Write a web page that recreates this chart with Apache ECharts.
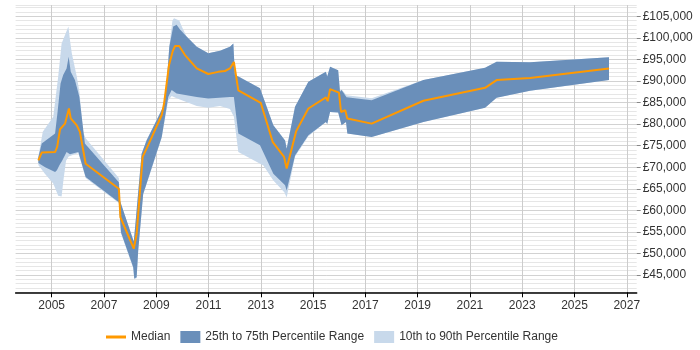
<!DOCTYPE html>
<html>
<head>
<meta charset="utf-8">
<script src="https://cdn.jsdelivr.net/npm/echarts@6/dist/echarts.min.js"></script>
<style>
  html, body { margin: 0; padding: 0; background: #fff; }
  #chart { width: 700px; height: 350px; }
</style>
</head>
<body>
<div id="chart"></div>
<script>
// ---- Data (year as decimal, salary in GBP) ----
const median = [
  [2004.49, 71600], [2004.62, 73400], [2005.13, 73500], [2005.21, 74700],
  [2005.32, 78800], [2005.51, 80100], [2005.57, 80500], [2005.66, 83600],
  [2005.73, 81300], [2005.96, 79700], [2006.08, 78200], [2006.30, 70800],
  [2007.57, 65000], [2007.63, 58400], [2008.14, 51100], [2008.25, 54500],
  [2008.48, 72400], [2008.63, 74300], [2008.89, 77800], [2009.21, 82100],
  [2009.30, 84800], [2009.49, 93700], [2009.63, 96900], [2009.72, 98100],
  [2009.88, 98100], [2010.10, 96000], [2010.55, 92900], [2010.99, 91600],
  [2011.37, 92100], [2011.63, 92300], [2011.82, 92900], [2011.97, 94400],
  [2012.14, 87800], [2013.00, 84900], [2013.46, 75800], [2013.89, 72400],
  [2013.99, 69700], [2014.35, 78300], [2014.82, 83600], [2015.49, 86200],
  [2015.56, 85300], [2015.65, 88100], [2015.99, 87300], [2016.07, 82800],
  [2016.23, 83200], [2016.31, 81300], [2017.24, 80100], [2019.22, 85400],
  [2021.58, 88400], [2022.02, 90200], [2023.30, 90700], [2026.32, 92900]
];
const p75 = [
  [2004.49, 72300], [2004.62, 75500], [2005.13, 77800], [2005.22, 82500],
  [2005.34, 89400], [2005.44, 91400], [2005.57, 92900], [2005.65, 95600],
  [2005.73, 92100], [2005.89, 90200], [2006.06, 86300], [2006.27, 75500],
  [2007.57, 66500], [2007.61, 62300], [2008.14, 52800], [2008.22, 58000],
  [2008.44, 73100], [2008.63, 76200], [2009.27, 84000], [2009.40, 89400],
  [2009.50, 97900], [2009.65, 102600], [2009.78, 103000], [2009.90, 102000],
  [2010.16, 100300], [2010.55, 97900], [2010.99, 96400], [2011.44, 97000],
  [2011.82, 97900], [2011.95, 98700], [2012.01, 91400], [2012.14, 91000],
  [2012.97, 88300], [2013.48, 79700], [2013.93, 76200], [2013.99, 74300],
  [2014.31, 84000], [2014.82, 89800], [2015.49, 92100], [2015.54, 91000],
  [2015.65, 93300], [2015.96, 92500], [2016.03, 87500], [2016.09, 87900],
  [2016.28, 86200], [2017.24, 85500], [2019.22, 90200], [2021.58, 93050],
  [2022.02, 94440], [2023.30, 94300], [2026.32, 95500]
];
const p25 = [
  [2004.49, 71000], [2004.75, 70000], [2005.13, 68900], [2005.20, 69300],
  [2005.30, 70500], [2005.40, 71500], [2005.57, 73500], [2005.70, 73000],
  [2006.02, 73500], [2006.30, 67700], [2007.57, 61900], [2007.65, 54900],
  [2008.12, 46800], [2008.16, 44200], [2008.25, 44500], [2008.31, 50700],
  [2008.50, 63800], [2009.21, 77000], [2009.46, 86300], [2009.59, 87900],
  [2009.78, 87100], [2010.55, 86300], [2010.99, 85900], [2011.82, 86300],
  [2011.97, 86300], [2012.14, 77800], [2012.97, 75100], [2013.48, 68500],
  [2013.93, 65800], [2013.99, 64600], [2014.31, 72700], [2014.82, 77400],
  [2015.49, 80500], [2015.54, 80000], [2015.65, 82800], [2015.96, 82700],
  [2016.09, 79700], [2016.26, 80500], [2016.31, 77800], [2017.24, 77000],
  [2019.22, 80500], [2021.58, 83800], [2022.02, 86100], [2023.30, 87700],
  [2026.32, 90200]
];
const p90 = [
  [2004.49, 72500], [2004.66, 78200], [2005.06, 81700], [2005.25, 91000],
  [2005.38, 98700], [2005.64, 102600], [2005.70, 99500], [2005.77, 96400],
  [2005.96, 91000], [2006.06, 87500], [2006.21, 78000], [2006.30, 76700],
  [2007.57, 67500], [2007.61, 62300], [2008.14, 52800], [2008.22, 58000],
  [2008.44, 73100], [2008.63, 76300], [2009.27, 84100], [2009.40, 90000],
  [2009.50, 98000], [2009.62, 104000], [2009.68, 104500], [2009.88, 104000],
  [2010.00, 102300], [2010.16, 100300], [2010.55, 97900], [2010.99, 96400],
  [2011.44, 97000], [2011.82, 97900], [2011.95, 98700], [2012.01, 91400],
  [2012.14, 91100], [2012.97, 88300], [2013.48, 79700], [2013.93, 76200],
  [2013.99, 74300], [2014.31, 84000], [2014.82, 89800], [2015.49, 92100],
  [2015.54, 91000], [2015.65, 93300], [2015.96, 92500], [2016.03, 87800],
  [2016.09, 88000], [2016.28, 86700], [2017.24, 86000], [2019.22, 90200],
  [2021.58, 93050], [2022.02, 94440], [2023.30, 94300], [2026.32, 95500]
];
const p10 = [
  [2004.49, 70500], [2004.74, 68500], [2005.06, 66200], [2005.25, 63400],
  [2005.38, 63200], [2005.45, 67000], [2005.55, 71500], [2005.65, 72500],
  [2006.02, 73300], [2006.30, 67500], [2007.57, 61700], [2007.65, 54700],
  [2008.12, 46600], [2008.16, 44000], [2008.25, 44300], [2008.31, 50500],
  [2008.50, 63600], [2009.21, 76800], [2009.46, 85500], [2009.59, 86500],
  [2009.78, 86000], [2010.55, 84200], [2010.99, 83800], [2011.44, 84200],
  [2011.82, 83500], [2011.97, 81700], [2012.14, 73500], [2013.10, 70400],
  [2013.48, 66900], [2013.90, 64200], [2013.99, 63000], [2014.31, 72500],
  [2014.82, 77200], [2015.49, 80500], [2015.54, 80000], [2015.65, 82800],
  [2015.96, 82700], [2016.09, 79700], [2016.26, 80500], [2016.31, 77800],
  [2017.24, 77000], [2019.22, 80500], [2021.58, 83800], [2022.02, 86100],
  [2023.30, 87700], [2026.32, 90200]
];
const xTickYears = [2005, 2007, 2009, 2011, 2013, 2015, 2017, 2019, 2021, 2023, 2025, 2027];
const yTickValues = [45000, 50000, 55000, 60000, 65000, 70000, 75000, 80000, 85000, 90000, 95000, 100000, 105000];
const seriesNames = ['Median', '25th to 75th Percentile Range', '10th to 90th Percentile Range'];

// ---- Axis extents and grid lines ----
const xMin = 2003.62, xMax = 2027.38;
const yMin = 41000, yMax = 107600;
const yGridValues = [];
for (let v = 41000; v <= 107000; v += 1000) yGridValues.push(v);
yGridValues.push(yMax);

const FONT = '"Liberation Sans", Arial, sans-serif';
const DARK = '#6a8fba';
const LIGHT = '#c8d9eb';
const ORANGE = '#ff9900';

function band(name, upper, lower, color, z) {
  return {
    type: 'custom',
    name: name,
    xAxisIndex: 0,
    yAxisIndex: 0,
    z: z,
    silent: true,
    clip: true,
    itemStyle: { color: color },
    data: [upper[0]],
    renderItem: function (params, api) {
      const pts = upper.map(p => api.coord(p))
        .concat(lower.slice().reverse().map(p => api.coord(p)));
      return { type: 'polygon', shape: { points: pts }, style: { fill: color } };
    }
  };
}

const chart = echarts.init(document.getElementById('chart'), null, { renderer: 'canvas' });
chart.setOption({
  animation: false,
  textStyle: { fontFamily: FONT },
  grid: { left: 15.6, right: 63.3, top: 5, bottom: 57.7, containLabel: false },
  legend: {
    top: 326,
    left: 101,
    itemWidth: 20,
    itemHeight: 12,
    itemGap: 10,
    symbolKeepAspect: true,
    textStyle: { fontSize: 12, color: '#333', fontFamily: FONT },
    data: [
      { name: seriesNames[0], icon: 'path://M0,0H20V3H0Z', itemStyle: { color: ORANGE } },
      { name: seriesNames[1], icon: 'rect' },
      { name: seriesNames[2], icon: 'rect' }
    ]
  },
  xAxis: {
    type: 'value',
    min: xMin,
    max: xMax,
    axisLine: { show: true, lineStyle: { color: '#000', width: 1.5 } },
    axisTick: { show: true, customValues: xTickYears, length: 5, lineStyle: { color: '#000' } },
    axisLabel: { customValues: xTickYears, color: '#333', fontSize: 12, margin: 7, fontFamily: FONT,
                 formatter: v => String(v) },
    splitLine: { show: true, lineStyle: { color: '#cccccc', width: 1 } }
  },
  yAxis: [
    {
      type: 'value',
      position: 'right',
      min: yMin, max: yMax,
      axisLine: { show: false },
      axisTick: { show: false, customValues: yGridValues },
      axisLabel: { show: false },
      splitLine: { show: true, lineStyle: { color: ['#e6e6e6', '#e6e6e6', '#e6e6e6', '#e6e6e6', '#d2d2d2'], width: 1 } }
    },
    {
      type: 'value',
      position: 'right',
      min: yMin, max: yMax,
      axisLine: { show: false },
      axisTick: { show: true, customValues: yTickValues, length: 4, lineStyle: { color: '#888' } },
      axisLabel: { customValues: yTickValues, color: '#333', fontSize: 12, margin: 6, fontFamily: FONT,
                   formatter: v => '£' + v.toLocaleString('en-GB') },
      splitLine: { show: false }
    }
  ],
  series: [
    band(seriesNames[2], p90, p10, LIGHT, 1),
    band(seriesNames[1], p75, p25, DARK, 2),
    {
      type: 'line',
      name: seriesNames[0],
      xAxisIndex: 0,
      yAxisIndex: 0,
      z: 3,
      data: median,
      symbol: 'none',
      showSymbol: false,
      lineStyle: { color: ORANGE, width: 2 },
      itemStyle: { color: ORANGE },
      silent: true
    }
  ]
});
</script>
</body>
</html>
